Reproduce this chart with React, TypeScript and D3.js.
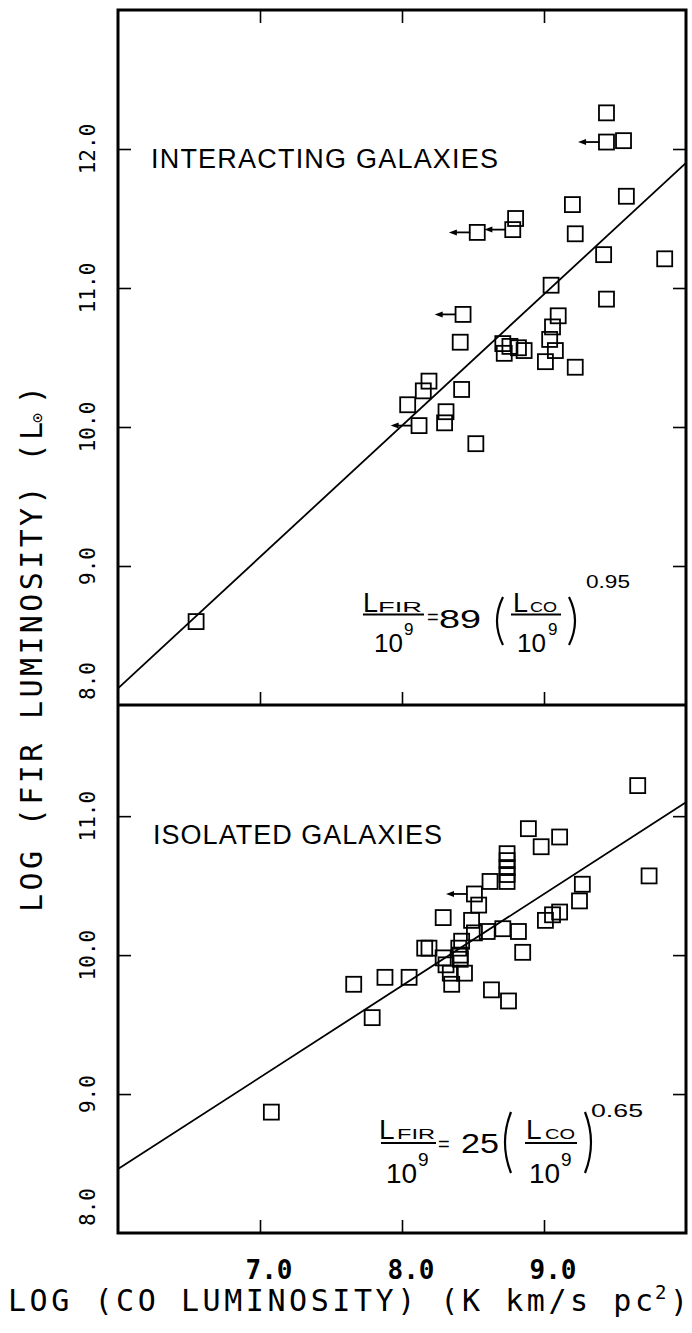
import React, { useEffect, useRef } from 'react';
import * as d3 from 'd3';

// log L_CO (x) and log L_FIR (y)
const interX = [9.44, 9.44, 9.56, 9.58, 9.20, 9.22, 8.80, 8.78, 8.53, 9.42, 9.85, 9.05, 9.44, 8.43, 9.10, 9.06, 9.04, 9.08, 8.41, 8.71, 8.72, 8.76, 8.82, 8.86, 9.01, 9.22, 8.19, 8.15, 8.42, 8.04, 8.31, 8.30, 8.12, 8.52, 6.55];
const interY = [12.26, 12.05, 12.06, 11.66, 11.60, 11.39, 11.50, 11.42, 11.40, 11.24, 11.21, 11.02, 10.92, 10.81, 10.80, 10.72, 10.63, 10.55, 10.61, 10.60, 10.53, 10.58, 10.57, 10.55, 10.47, 10.43, 10.33, 10.26, 10.27, 10.16, 10.11, 10.03, 10.01, 9.88, 8.60];
const interLimit = [0, 1, 0, 0, 0, 0, 0, 1, 1, 0, 0, 0, 0, 1, 0, 0, 0, 0, 0, 0, 0, 0, 0, 0, 0, 0, 0, 0, 0, 0, 0, 0, 1, 0, 0];

const isoX = [9.66, 9.74, 8.89, 8.98, 9.11, 8.74, 8.74, 8.74, 8.74, 8.74, 8.62, 8.51, 8.54, 9.27, 9.25, 9.11, 9.06, 9.01, 8.29, 8.49, 8.60, 8.71, 8.82, 8.51, 8.42, 8.40, 8.41, 8.41, 8.16, 8.19, 8.29, 8.31, 8.34, 8.44, 8.35, 8.85, 8.05, 7.88, 7.66, 7.79, 8.63, 8.75, 7.08];
const isoY = [11.22, 10.57, 10.91, 10.78, 10.85, 10.73, 10.68, 10.63, 10.58, 10.53, 10.53, 10.44, 10.36, 10.51, 10.39, 10.31, 10.29, 10.25, 10.27, 10.25, 10.17, 10.19, 10.17, 10.16, 10.10, 10.05, 10.00, 9.97, 10.05, 10.05, 9.98, 9.93, 9.87, 9.87, 9.79, 10.02, 9.84, 9.84, 9.79, 9.55, 9.75, 9.67, 8.87];
const isoLimit = [0, 0, 0, 0, 0, 0, 0, 0, 0, 0, 0, 1, 0, 0, 0, 0, 0, 0, 0, 0, 0, 0, 0, 0, 0, 0, 0, 0, 0, 0, 0, 0, 0, 0, 0, 0, 0, 0, 0, 0, 0, 0, 0];

// fitted lines, end points at the frame edges
const interFitX = [6, 10];
const interFitY = [8.12, 11.9];
const isoFitX = [6, 10];
const isoFitY = [8.46, 11.1];

const xTicks = [7, 8, 9];
const xTickLabels = ['7.0', '8.0', '9.0'];
const topYTicks = [9, 10, 11, 12];
const topYLabels = ['8.0', '9.0', '10.0', '11.0', '12.0'];
const topYLabelVals = [8, 9, 10, 11, 12];
const botYTicks = [9, 10, 11];
const botYLabels = ['8.0', '9.0', '10.0', '11.0'];
const botYLabelVals = [8, 9, 10, 11];

const W = 692;
const H = 1333;
const LEFT = 118;
const RIGHT = 686;
const TOP = 10;
const MID = 705;
const BOTTOM = 1233;

const MONO = '"DejaVu Sans Mono", monospace';
const SANS = '"Liberation Sans", Arial, sans-serif';

type Piece = { t: string; x: number; y: number; fs: number; len?: number };
type EqSpec = { pieces: Piece[]; bars: [number, number, number][]; parens: [number, number, number][] };

const topEq: EqSpec = {
  pieces: [
    { t: 'L', x: 363, y: 612, fs: 27 },
    { t: 'FIR', x: 378, y: 612, fs: 15, len: 44 },
    { t: '10', x: 374, y: 652, fs: 26 },
    { t: '9', x: 404, y: 635, fs: 17 },
    { t: '=', x: 427, y: 624, fs: 20 },
    { t: '89', x: 439, y: 628, fs: 26, len: 42 },
    { t: 'L', x: 513, y: 612, fs: 27 },
    { t: 'CO', x: 530, y: 612, fs: 15, len: 27 },
    { t: '10', x: 517, y: 652, fs: 26 },
    { t: '9', x: 548, y: 635, fs: 17 },
    { t: '0.95', x: 586, y: 588, fs: 18, len: 44 },
  ],
  bars: [[363, 424, 614.5], [511, 561, 614.5]],
  parens: [[503, 597, 645], [569, 597, 645]],
};

const botEq: EqSpec = {
  pieces: [
    { t: 'L', x: 379, y: 1139, fs: 28 },
    { t: 'FIR', x: 397, y: 1139, fs: 15, len: 38 },
    { t: '10', x: 386, y: 1183, fs: 28 },
    { t: '9', x: 418, y: 1166, fs: 19 },
    { t: '=', x: 438, y: 1151, fs: 20 },
    { t: '25', x: 461, y: 1153, fs: 27, len: 38 },
    { t: 'L', x: 526, y: 1139, fs: 28 },
    { t: 'CO', x: 545, y: 1139, fs: 15, len: 30 },
    { t: '10', x: 529, y: 1183, fs: 28 },
    { t: '9', x: 561, y: 1166, fs: 19 },
    { t: '0.65', x: 591, y: 1117, fs: 19, len: 52 },
  ],
  bars: [[381, 436, 1143], [525, 577, 1143]],
  parens: [[511, 1112, 1173], [585, 1112, 1173]],
};

export default function App() {
  const svgRef = useRef<SVGSVGElement>(null);

  useEffect(() => {
    if (!svgRef.current) return;
    const svg = d3.select(svgRef.current);
    svg.selectAll('*').remove();

    const x = d3.scaleLinear().domain([6, 10]).range([LEFT, RIGHT]);
    const yTop = d3.scaleLinear().domain([8, 13]).range([MID, TOP]);
    const yBot = d3.scaleLinear().domain([8, 11.8]).range([BOTTOM, MID]);

    svg.append('rect').attr('width', W).attr('height', H).attr('fill', '#fff');

    const drawPanel = (
      y: d3.ScaleLinear<number, number>,
      px: number[], py: number[], lim: number[],
      fx: number[], fy: number[],
      yTicks: number[], withTopTicks: boolean,
    ) => {
      const g = svg.append('g');

      // inward ticks via d3 axes
      const axes: [d3.Axis<d3.NumberValue>, string][] = [
        [d3.axisLeft(y).tickValues(yTicks), `translate(${LEFT},0)`],
        [d3.axisRight(y).tickValues(yTicks), `translate(${RIGHT},0)`],
        [d3.axisBottom(x).tickValues(xTicks), `translate(0,${y.range()[0]})`],
      ];
      if (withTopTicks) axes.push([d3.axisTop(x).tickValues(xTicks), `translate(0,${y.range()[1]})`]);
      axes.forEach(([ax, tr]) => {
        const a = g.append('g')
          .attr('transform', tr)
          .call(ax.tickSizeInner(-13).tickSizeOuter(0).tickFormat(() => ''));
        a.select('.domain').remove();
        a.selectAll('line').attr('stroke', '#000').attr('stroke-width', 1.6);
      });

      // fit line
      const line = d3.line<number>()
        .x((_, i) => x(fx[i]))
        .y((_, i) => y(fy[i]));
      g.append('path')
        .datum(fx)
        .attr('d', line)
        .attr('fill', 'none')
        .attr('stroke', '#000')
        .attr('stroke-width', 1.8);

      // upper-limit arrows
      const arrows = d3.range(px.length).filter(i => lim[i]);
      g.selectAll('.lim')
        .data(arrows)
        .join('line')
        .attr('x1', i => x(px[i]) - 7)
        .attr('x2', i => x(px[i] - 0.2) + 5)
        .attr('y1', i => y(py[i]))
        .attr('y2', i => y(py[i]))
        .attr('stroke', '#000')
        .attr('stroke-width', 1.8);
      g.selectAll('.head')
        .data(arrows)
        .join('path')
        .attr('d', i => {
          const tx = x(px[i] - 0.2);
          const ty = y(py[i]);
          return `M${tx},${ty}L${tx + 8},${ty - 3}L${tx + 8},${ty + 3}Z`;
        })
        .attr('fill', '#000');

      // square markers
      const s = 15;
      g.selectAll('.pt')
        .data(d3.range(px.length))
        .join('rect')
        .attr('x', i => x(px[i]) - s / 2)
        .attr('y', i => y(py[i]) - s / 2)
        .attr('width', s)
        .attr('height', s)
        .attr('fill', 'none')
        .attr('stroke', '#000')
        .attr('stroke-width', 1.8);
    };

    drawPanel(yTop, interX, interY, interLimit, interFitX, interFitY, topYTicks, true);
    drawPanel(yBot, isoX, isoY, isoLimit, isoFitX, isoFitY, botYTicks, false);

    // frames
    svg.append('rect')
      .attr('x', LEFT).attr('y', TOP)
      .attr('width', RIGHT - LEFT).attr('height', BOTTOM - TOP)
      .attr('fill', 'none').attr('stroke', '#000').attr('stroke-width', 3);
    svg.append('line')
      .attr('x1', LEFT).attr('x2', RIGHT).attr('y1', MID).attr('y2', MID)
      .attr('stroke', '#000').attr('stroke-width', 3);

    // y tick labels (rotated)
    const yLabel = (y: d3.ScaleLinear<number, number>, vals: number[], labels: string[], lowShift: number) => {
      svg.append('g')
        .selectAll('text')
        .data(vals)
        .join('text')
        .attr('transform', (v, i) => `translate(95,${y(v) - (i === 0 ? lowShift : 0)}) rotate(-90)`)
        .attr('text-anchor', 'middle')
        .style('font-family', MONO)
        .style('font-size', '21px')
        .text((_, i) => labels[i]);
    };
    yLabel(yTop, topYLabelVals, topYLabels, 24);
    yLabel(yBot, botYLabelVals, botYLabels, 26);

    // x tick labels
    svg.append('g')
      .selectAll('text')
      .data(xTicks)
      .join('text')
      .attr('x', v => x(v) + 9)
      .attr('y', 1279)
      .attr('text-anchor', 'middle')
      .style('font-family', MONO)
      .style('font-size', '26px')
      .style('font-weight', 'bold')
      .text((_, i) => xTickLabels[i]);

    // x title
    const xt = svg.append('g').style('font-family', MONO);
    xt.append('text')
      .attr('x', 8).attr('y', 1311)
      .attr('textLength', 645).attr('lengthAdjust', 'spacing')
      .style('font-size', '30px')
      .text('LOG (CO LUMINOSITY) (K km/s pc');
    xt.append('text').attr('x', 655).attr('y', 1299).style('font-size', '19px').text('2');
    xt.append('text').attr('x', 670).attr('y', 1312).style('font-size', '30px').text(')');

    // y title
    const yt = svg.append('g')
      .attr('transform', 'translate(42,912) rotate(-90)')
      .style('font-family', MONO);
    yt.append('text')
      .attr('x', 0).attr('y', 0)
      .attr('textLength', 490).attr('lengthAdjust', 'spacing')
      .style('font-size', '30px')
      .text('LOG (FIR LUMINOSITY) (L');
    yt.append('text').attr('x', 489).attr('y', 1).style('font-size', '17px').text('⊙');
    yt.append('text').attr('x', 508).attr('y', 0).style('font-size', '30px').text(')');

    // panel labels
    svg.append('text')
      .attr('x', 151).attr('y', 168)
      .attr('textLength', 347).attr('lengthAdjust', 'spacing')
      .style('font-family', SANS).style('font-size', '27px')
      .text('INTERACTING GALAXIES');
    svg.append('text')
      .attr('x', 153).attr('y', 844)
      .attr('textLength', 289).attr('lengthAdjust', 'spacing')
      .style('font-family', SANS).style('font-size', '27px')
      .text('ISOLATED GALAXIES');

    // equations
    const drawEq = (eq: EqSpec) => {
      const g = svg.append('g').style('font-family', SANS);
      eq.pieces.forEach(p => {
        const t = g.append('text')
          .attr('x', p.x).attr('y', p.y)
          .style('font-size', `${p.fs}px`)
          .text(p.t);
        if (p.len) t.attr('textLength', p.len).attr('lengthAdjust', 'spacingAndGlyphs');
      });
      eq.bars.forEach(([x1, x2, yy]) => {
        g.append('line').attr('x1', x1).attr('x2', x2).attr('y1', yy).attr('y2', yy)
          .attr('stroke', '#000').attr('stroke-width', 2);
      });
      eq.parens.forEach(([px, y1, y2], i) => {
        const dir = i === 0 ? -1 : 1;
        const mid = (y1 + y2) / 2;
        g.append('path')
          .attr('d', `M${px},${y1} Q${px + dir * 12},${mid} ${px},${y2}`)
          .attr('fill', 'none').attr('stroke', '#000').attr('stroke-width', 2.2);
      });
    };
    drawEq(topEq);
    drawEq(botEq);
  }, []);

  return (
    <svg
      ref={svgRef}
      width={W}
      height={H}
      style={{ position: 'absolute', left: 0, top: 0, display: 'block' }}
    />
  );
}
